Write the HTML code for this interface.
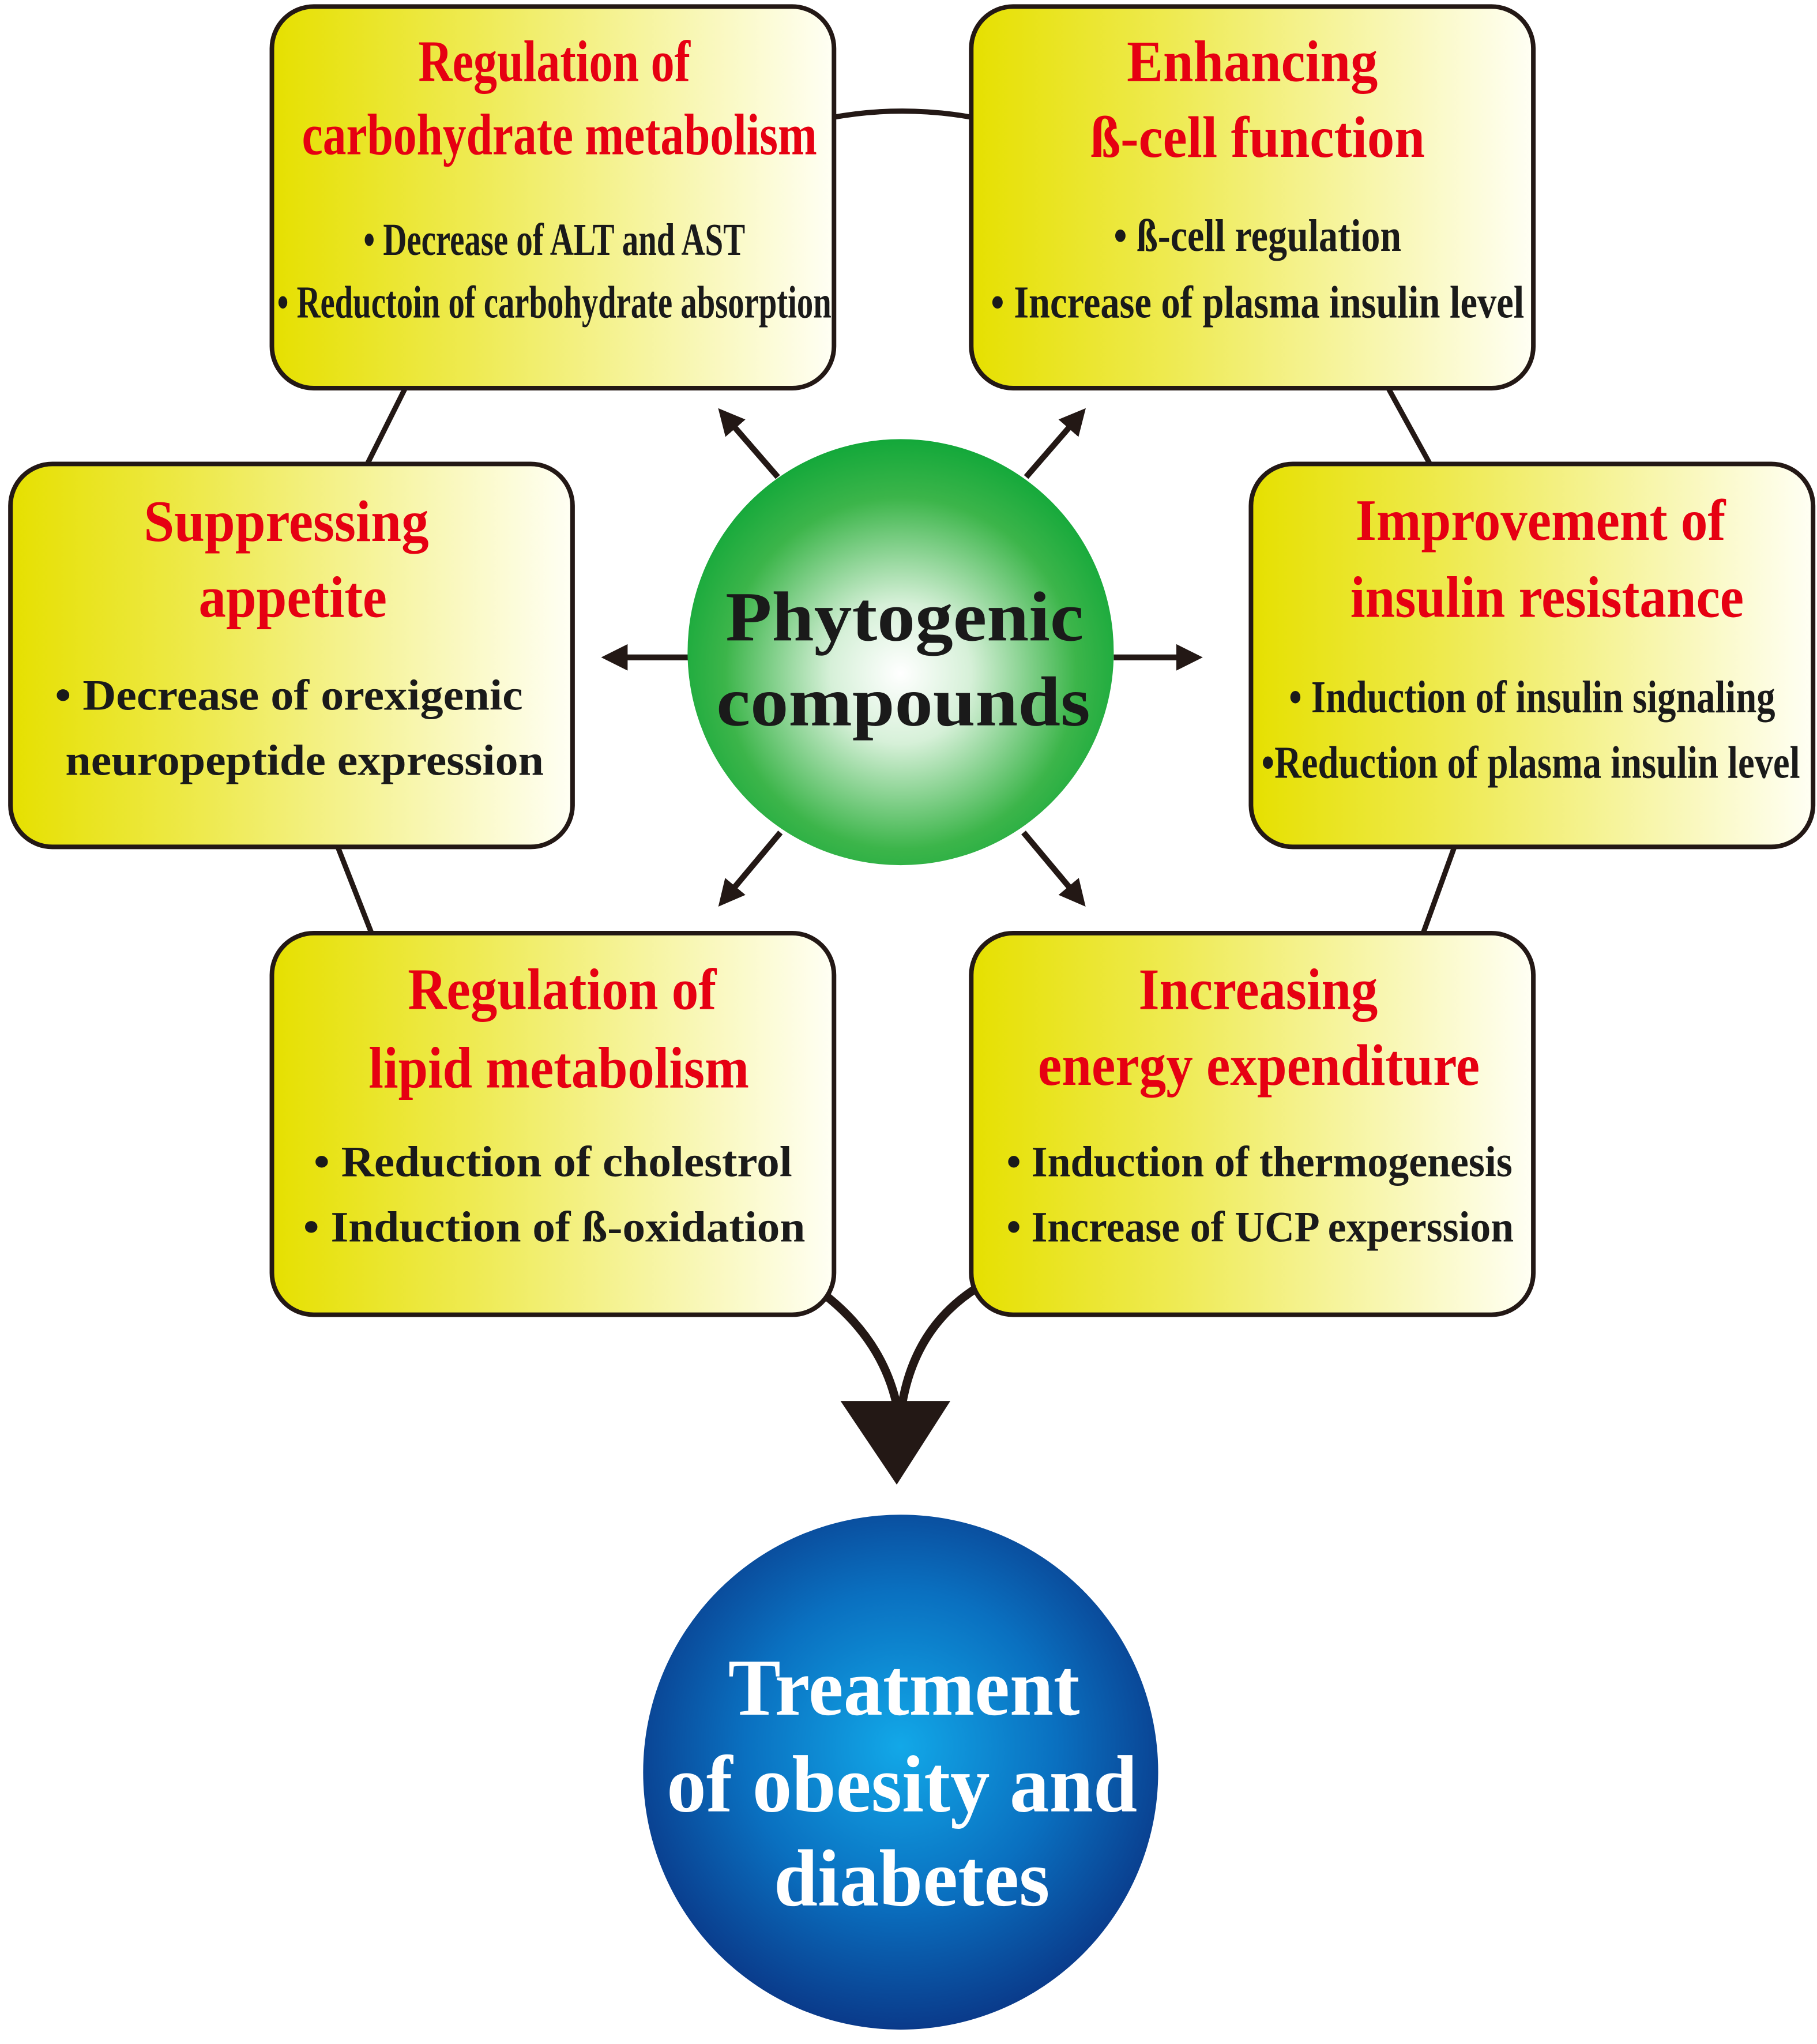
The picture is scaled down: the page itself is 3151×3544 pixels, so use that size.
<!DOCTYPE html>
<html><head><meta charset="utf-8"><style>html,body{margin:0;padding:0;background:#fff}svg{display:block}</style></head>
<body>
<svg width="3151" height="3544" viewBox="0 0 1390 1564" preserveAspectRatio="none" xmlns="http://www.w3.org/2000/svg">
<defs>
<linearGradient id="yb" x1="0" y1="0" x2="1" y2="0">
<stop offset="0" stop-color="#e6e000"/><stop offset="0.35" stop-color="#eeea50"/><stop offset="1" stop-color="#fffff4"/>
</linearGradient>
<radialGradient id="gc" cx="0.5" cy="0.55" r="0.55">
<stop offset="0" stop-color="#ffffff"/><stop offset="0.3" stop-color="#d6f0d8"/><stop offset="0.75" stop-color="#3cb54a"/><stop offset="1" stop-color="#13a83a"/>
</radialGradient>
<radialGradient id="bc" cx="0.5" cy="0.45" r="0.55">
<stop offset="0" stop-color="#12a8e8"/><stop offset="0.55" stop-color="#0a70c0"/><stop offset="1" stop-color="#0a3a8a"/>
</radialGradient>
<marker id="ah" viewBox="0 0 10 10" refX="5" refY="5" markerWidth="4.5" markerHeight="4.5" orient="auto-start-reverse">
<path d="M0,0 L10,5 L0,10 z" fill="#231815"/>
</marker>
</defs>
<g fill="none" stroke="#231815" stroke-width="4">
<path d="M636,90 Q690,80 745,90"/>
<path d="M310,297 L280,357"/>
<path d="M258,647 L285,716"/>
<path d="M1062,297 L1095,357"/>
<path d="M1113,647 L1088,716"/>
</g>
<g fill="none" stroke="#231815" stroke-width="6.5">
<path d="M630,990 Q675,1025 686,1075"/>
<path d="M748,985 Q700,1015 690,1075"/>
</g>
<polygon points="643,1072 727,1072 686,1136" fill="#231815"/>
<g fill="url(#yb)" stroke="#231815" stroke-width="3.5">
<rect x="208" y="5" width="430" height="292" rx="32"/>
<rect x="743" y="5" width="430" height="292" rx="32"/>
<rect x="8" y="355" width="430" height="293" rx="32"/>
<rect x="957" y="355" width="430" height="293" rx="32"/>
<rect x="208" y="714" width="430" height="292" rx="32"/>
<rect x="743" y="714" width="430" height="292" rx="32"/>
</g>
<g stroke="#231815" stroke-width="4.5" marker-end="url(#ah)">
<line x1="595" y1="365" x2="556" y2="320"/>
<line x1="785" y1="365" x2="824" y2="320"/>
<line x1="527" y1="503" x2="470" y2="503"/>
<line x1="852" y1="503" x2="910" y2="503"/>
<line x1="597" y1="637" x2="556" y2="686"/>
<line x1="783" y1="637" x2="824" y2="686"/>
</g>
<circle cx="689" cy="499" r="163" fill="url(#gc)"/>
<circle cx="689" cy="1356" r="197" fill="url(#bc)"/>
<g font-family="Liberation Serif, serif" font-weight="bold">
<text x="555" y="490" font-size="54" fill="#1a1a1a" textLength="274" lengthAdjust="spacingAndGlyphs">Phytogenic</text>
<text x="548" y="555" font-size="54" fill="#1a1a1a" textLength="286" lengthAdjust="spacingAndGlyphs">compounds</text>
<text x="557" y="1312" font-size="62" fill="#fff" textLength="269" lengthAdjust="spacingAndGlyphs">Treatment</text>
<text x="510" y="1386" font-size="62" fill="#fff" textLength="360" lengthAdjust="spacingAndGlyphs">of obesity and</text>
<text x="592" y="1458" font-size="62" fill="#fff" textLength="211" lengthAdjust="spacingAndGlyphs">diabetes</text>
</g>
<g font-family="Liberation Serif, serif" font-weight="bold" fill="#e60012" font-size="45">
<text x="320" y="62" textLength="208" lengthAdjust="spacingAndGlyphs">Regulation of</text>
<text x="231" y="118" textLength="394" lengthAdjust="spacingAndGlyphs">carbohydrate metabolism</text>
<text x="862" y="62" textLength="192" lengthAdjust="spacingAndGlyphs">Enhancing</text>
<text x="834" y="120" textLength="256" lengthAdjust="spacingAndGlyphs">ß-cell function</text>
<text x="110" y="414" textLength="218" lengthAdjust="spacingAndGlyphs">Suppressing</text>
<text x="152" y="472" textLength="144" lengthAdjust="spacingAndGlyphs">appetite</text>
<text x="1037" y="413" textLength="283" lengthAdjust="spacingAndGlyphs">Improvement of</text>
<text x="1033" y="472" textLength="301" lengthAdjust="spacingAndGlyphs">insulin resistance</text>
<text x="312" y="772" textLength="236" lengthAdjust="spacingAndGlyphs">Regulation of</text>
<text x="282" y="832" textLength="291" lengthAdjust="spacingAndGlyphs">lipid metabolism</text>
<text x="871" y="772" textLength="183" lengthAdjust="spacingAndGlyphs">Increasing</text>
<text x="794" y="830" textLength="338" lengthAdjust="spacingAndGlyphs">energy expenditure</text>
</g>
<g font-family="Liberation Serif, serif" font-weight="bold" fill="#1a1a1a" font-size="33">
<text x="278" y="195" font-size="35" textLength="292" lengthAdjust="spacingAndGlyphs">• Decrease of ALT and AST</text>
<text x="212" y="243" font-size="35" textLength="424" lengthAdjust="spacingAndGlyphs">• Reductoin of carbohydrate absorption</text>
<text x="852" y="192" font-size="35" textLength="220" lengthAdjust="spacingAndGlyphs">• ß-cell regulation</text>
<text x="758" y="243" font-size="35" textLength="408" lengthAdjust="spacingAndGlyphs">• Increase of plasma insulin level</text>
<text x="42" y="543" textLength="358" lengthAdjust="spacingAndGlyphs">• Decrease of orexigenic</text>
<text x="50" y="593" textLength="366" lengthAdjust="spacingAndGlyphs">neuropeptide expression</text>
<text x="986" y="545" font-size="35" textLength="372" lengthAdjust="spacingAndGlyphs">• Induction of insulin signaling</text>
<text x="965" y="595" font-size="35" textLength="412" lengthAdjust="spacingAndGlyphs">•Reduction of plasma insulin level</text>
<text x="240" y="900" textLength="366" lengthAdjust="spacingAndGlyphs">• Reduction of cholestrol</text>
<text x="232" y="950" textLength="384" lengthAdjust="spacingAndGlyphs">• Induction of ß-oxidation</text>
<text x="770" y="900" textLength="387" lengthAdjust="spacingAndGlyphs">• Induction of thermogenesis</text>
<text x="770" y="950" textLength="388" lengthAdjust="spacingAndGlyphs">• Increase of UCP experssion</text>
</g>
</svg>
</body></html>
